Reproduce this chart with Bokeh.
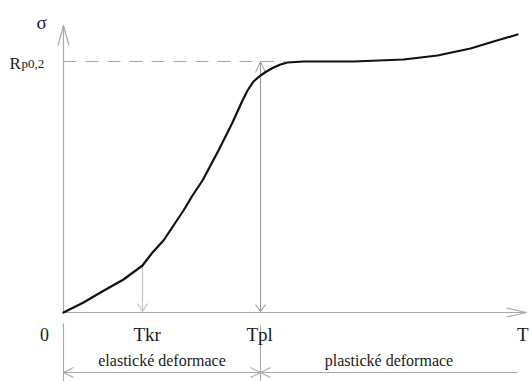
from bokeh.plotting import figure
from bokeh.models import Range1d
from bokeh.core.properties import value
from bokeh.embed import file_html
from bokeh.resources import INLINE

# ---- data (T in chart units from origin, sigma in chart units) ----
T_curve = [0, 20, 37, 60, 79, 89, 100, 110, 120, 129, 139, 147, 155, 162, 169, 174, 179, 184,
           190, 197, 203, 210, 217, 224, 240, 265, 290, 315, 340, 374, 407, 430, 454]
sigma_curve = [0, 10, 20, 33, 47, 60, 72, 87, 102, 117, 132, 147, 162, 176, 190, 201, 212, 222,
               231, 237, 241, 245, 248, 250, 251, 251, 251, 252, 253, 257, 264, 271, 278]
T_kr = 79
T_pl = 197
T_end = 454
Rp02 = 251
sigma_top = 287
sigma_kr = 47
tick_labels = ["0", "Tkr", "Tpl", "T"]
zone_labels = ["elastické deformace", "plastické deformace"]

FONT = value("Liberation Serif")
AX = "#a8a8a8"
TXT = "#1a1a1a"

p = figure(width=529, height=381, output_backend="svg", toolbar_location=None,
           x_range=Range1d(-63, 466), y_range=Range1d(-69, 312),
           min_border=0, outline_line_color=None, background_fill_color="white",
           border_fill_color="white")
p.xaxis.visible = False
p.yaxis.visible = False
p.grid.visible = False

# axes with open arrowheads
p.line([0, 0], [0, sigma_top], line_color=AX, line_width=1.2)
p.line([-5.5, 0, 5.5], [sigma_top - 20, sigma_top, sigma_top - 20], line_color=AX, line_width=1.2)
p.line([0, T_end + 9], [0, 0], line_color=AX, line_width=1.2)
p.line([T_end - 11, T_end + 9, T_end - 11], [4.5, 0, -4.5], line_color=AX, line_width=1.2)

# dashed Rp0,2 level
p.line([0, 222], [Rp02, Rp02], line_color=AX, line_width=1.2, line_dash="13 9")

# Tkr arrow
p.line([T_kr, T_kr], [sigma_kr, 1], line_color="#c4c4c4", line_width=1.2)
p.line([T_kr - 5, T_kr, T_kr + 5], [9, 1, 9], line_color="#c4c4c4", line_width=1.2)

# Tpl line with arrowheads
p.line([T_pl, T_pl], [Rp02, 1], line_color="#9a9a9a", line_width=1.1)
p.line([T_pl - 5, T_pl, T_pl + 5], [8, 1, 8], line_color="#9a9a9a", line_width=1.1)
p.line([T_pl - 5, T_pl, T_pl + 5], [Rp02 - 11, Rp02, Rp02 - 11], line_color="#9a9a9a", line_width=1.0)

# stress curve
p.line(T_curve, sigma_curve, line_color="#111111", line_width=2.2, line_join="round", line_cap="round")

# dimension lines below
yd = -60
p.line([0, 0], [-11, -72], line_color=AX, line_width=1.1)
p.line([T_pl, T_pl], [-13, -72], line_color=AX, line_width=1.1)
p.line([0, T_end], [yd, yd], line_color=AX, line_width=1.1)
p.line([10, 0, 10], [yd + 5, yd, yd - 5], line_color=AX, line_width=1.1)
p.line([T_pl - 10, T_pl, T_pl - 10], [yd + 5, yd, yd - 5], line_color=AX, line_width=1.1)
p.line([T_pl + 10, T_pl, T_pl + 10], [yd + 5, yd, yd - 5], line_color=AX, line_width=1.1)

# texts
p.text(x=[-22], y=[290], text=["σ"], text_font=FONT, text_font_size="19px",
       text_color=TXT, text_align="center", text_baseline="alphabetic")
p.text(x=[-54], y=[Rp02 - 2], text=["R"], text_font=FONT, text_font_size="17px",
       text_color=TXT, text_align="left", text_baseline="alphabetic")
p.text(x=[-42], y=[Rp02 - 2], text=["p0,2"], text_font=FONT, text_font_size="13px",
       text_color=TXT, text_align="left", text_baseline="alphabetic")
p.text(x=[-19], y=[-22], text=[tick_labels[0]], text_font=FONT, text_font_size="18px",
       text_color=TXT, text_align="center", text_baseline="alphabetic")
p.text(x=[T_kr - 9, T_pl - 14], y=[-22, -22], text=tick_labels[1:3],
       text_font=FONT, text_font_size="19px", text_color=TXT,
       text_align="left", text_baseline="alphabetic")
p.text(x=[465], y=[-22], text=[tick_labels[3]],
       text_font=FONT, text_font_size="19px", text_color=TXT,
       text_align="right", text_baseline="alphabetic")
p.text(x=[T_pl / 2, (T_pl + T_end) / 2], y=[-48, -48], text=zone_labels,
       text_font=FONT, text_font_size="16px", text_color=TXT,
       text_align="center", text_baseline="alphabetic")

open("out.html", "w").write(file_html(p, INLINE))
